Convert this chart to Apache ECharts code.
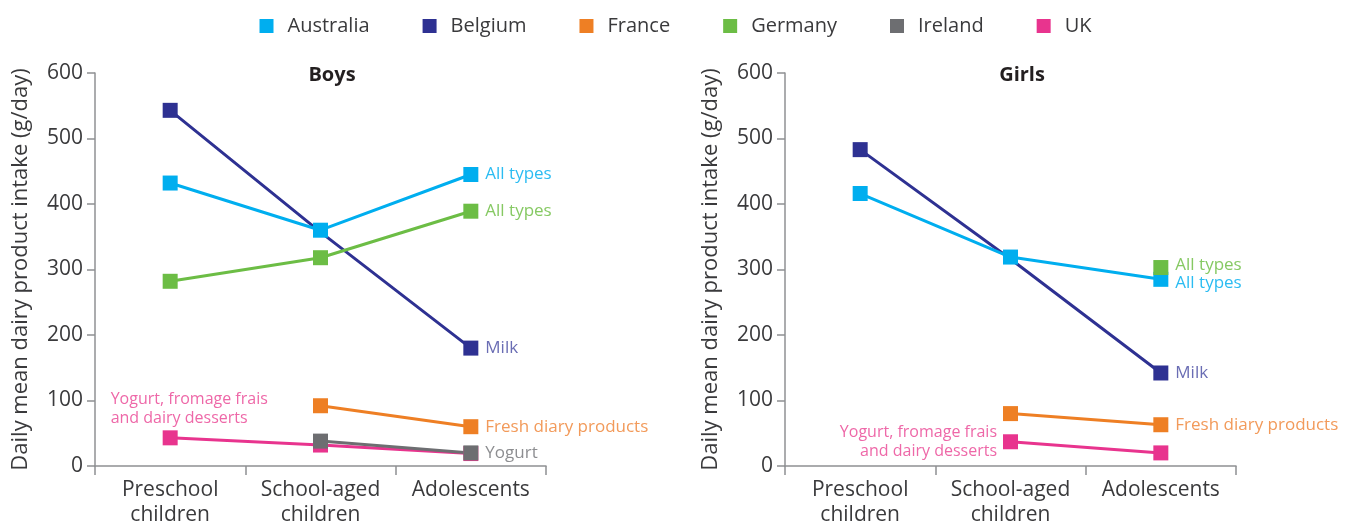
<!DOCTYPE html>
<html>
<head>
<meta charset="utf-8">
<script src="https://cdn.jsdelivr.net/npm/echarts@6/dist/echarts.min.js"></script>
<style>
  html, body { margin: 0; padding: 0; background: #fff; }
  #chart { width: 1351px; height: 528px; }
</style>
</head>
<body>
<div id="chart"></div>
<script>
// categories and tick labels
const categories = ["Preschool\nchildren", "School-aged\nchildren", "Adolescents"];
const yTicks = [0, 100, 200, 300, 400, 500, 600];
const countries = ["Australia", "Belgium", "France", "Germany", "Ireland", "UK"];

// boys, g/day (null = no survey for that age group)
const boysAustralia = [432, 360, 445];
const boysBelgium = [543, 357, 180];
const boysFrance = [null, 92, 60];
const boysGermany = [282, 318, 389];
const boysIreland = [null, 38, 20];
const boysUK = [43, 32, 19];

// girls, g/day
const girlsAustralia = [416, 319, 285];
const girlsBelgium = [483, 316, 142];
const girlsFrance = [null, 80, 63];
const girlsGermany = [null, null, 303];
const girlsUK = [null, 37, 20];

const colors = {
  Australia: "#00aeef",
  Belgium: "#2e3192",
  France: "#ee7f24",
  Germany: "#6cbd45",
  Ireland: "#6d6e71",
  UK: "#e8348e"
};
const labelColors = {
  Australia: "#2bbcf2",
  Belgium: "#6a6db4",
  France: "#f29a5a",
  Germany: "#86c963",
  Ireland: "#8d8e91",
  UK: "#ee68a8"
};

const font = "Open Sans";
const textDark = "#3a3a3c";
const axisGrey = "#8f9093";

function makeSeries(name, values, grid, endLabel, extraLabel) {
  const data = values.map((v, i) => {
    if (i === 2 && endLabel) {
      return {
        value: v,
        label: {
          show: true,
          position: "right",
          distance: 7,
          formatter: endLabel,
          color: labelColors[name],
          fontFamily: font,
          fontSize: 17
        }
      };
    }
    if (extraLabel && i === extraLabel.index) {
      return { value: v, label: extraLabel.label };
    }
    return v;
  });
  return {
    name: name,
    type: "line",
    xAxisIndex: grid,
    yAxisIndex: grid,
    data: data,
    symbol: "rect",
    symbolSize: name === "Belgium" ? (v, p) => (p.dataIndex === 1 ? 0 : 15) : 15,
    showSymbol: true,
    connectNulls: true,
    lineStyle: { width: 3, color: colors[name] },
    itemStyle: { color: colors[name] },
    emphasis: { disabled: true },
    animation: false
  };
}

const ukLabelBoys = {
  index: 0,
  label: {
    show: true,
    position: [-52, -40],
    align: "left",
    verticalAlign: "top",
    formatter: "Yogurt, fromage frais\nand dairy desserts",
    color: labelColors.UK,
    fontFamily: font,
    fontSize: 16,
    lineHeight: 19
  }
};
const ukLabelGirls = {
  index: 1,
  label: {
    show: true,
    position: "left",
    distance: 6,
    align: "right",
    formatter: "Yogurt, fromage frais\nand dairy desserts",
    color: labelColors.UK,
    fontFamily: font,
    fontSize: 16,
    lineHeight: 19
  }
};

function withOffset(s, offset) {
  s.data[2].label.offset = offset;
  return s;
}

const series = [
  // boys
  makeSeries("Belgium", boysBelgium, 0, "Milk"),
  makeSeries("Germany", boysGermany, 0, "All types"),
  makeSeries("Australia", boysAustralia, 0, "All types"),
  makeSeries("France", boysFrance, 0, "Fresh diary products"),
  makeSeries("UK", boysUK, 0, null, ukLabelBoys),
  makeSeries("Ireland", boysIreland, 0, "Yogurt"),
  // girls
  makeSeries("Belgium", girlsBelgium, 1, "Milk"),
  withOffset(makeSeries("Australia", girlsAustralia, 1, "All types"), [0, 4]),
  withOffset(makeSeries("Germany", girlsGermany, 1, "All types"), [0, -2]),
  makeSeries("France", girlsFrance, 1, "Fresh diary products"),
  makeSeries("UK", girlsUK, 1, null, ukLabelGirls)
];

function xAxis(grid) {
  return {
    type: "category",
    gridIndex: grid,
    data: categories,
    boundaryGap: true,
    axisLine: { lineStyle: { color: axisGrey, width: 1.5 } },
    axisTick: { show: true, length: 9, lineStyle: { color: axisGrey, width: 1.5 } },
    axisLabel: {
      interval: 0,
      color: textDark,
      fontFamily: font,
      fontSize: 21,
      lineHeight: 25,
      margin: 12
    }
  };
}

function yAxis(grid) {
  return {
    type: "value",
    gridIndex: grid,
    min: yTicks[0],
    max: yTicks[yTicks.length - 1],
    interval: 100,
    name: "Daily mean dairy product intake (g/day)",
    nameLocation: "middle",
    nameGap: 63,
    nameTextStyle: { color: textDark, fontFamily: font, fontSize: 22 },
    axisLine: { show: true, lineStyle: { color: axisGrey, width: 1.5 } },
    axisTick: { show: true, length: 8, lineStyle: { color: axisGrey, width: 1.5 } },
    axisLabel: { color: textDark, fontFamily: font, fontSize: 21, margin: 12 },
    splitLine: { show: false }
  };
}

const chart = echarts.init(document.getElementById("chart"), null, { renderer: "canvas" });
chart.setOption({
  animation: false,
  color: countries.map(c => colors[c]),
  title: [
    { text: "Boys", left: 327, top: 60, textAlign: "center",
      textStyle: { fontFamily: font, fontSize: 20, fontWeight: "bold", color: "#231f20" } },
    { text: "Girls", left: 1017, top: 60, textAlign: "center",
      textStyle: { fontFamily: font, fontSize: 20, fontWeight: "bold", color: "#231f20" } }
  ],
  legend: {
    data: countries.map(c => ({ name: c, icon: "rect", itemStyle: { color: colors[c] } })),
    top: 11,
    left: "center",
    itemWidth: 14,
    itemHeight: 14,
    itemGap: 53,
    textStyle: { color: textDark, fontFamily: font, fontSize: 20, padding: [0, 0, 0, 9] }
  },
  grid: [
    { left: 95, right: 805, top: 73, bottom: 62 },
    { left: 785, right: 115, top: 73, bottom: 62 }
  ],
  xAxis: [xAxis(0), xAxis(1)],
  yAxis: [yAxis(0), yAxis(1)],
  series: series
});
</script>
</body>
</html>
